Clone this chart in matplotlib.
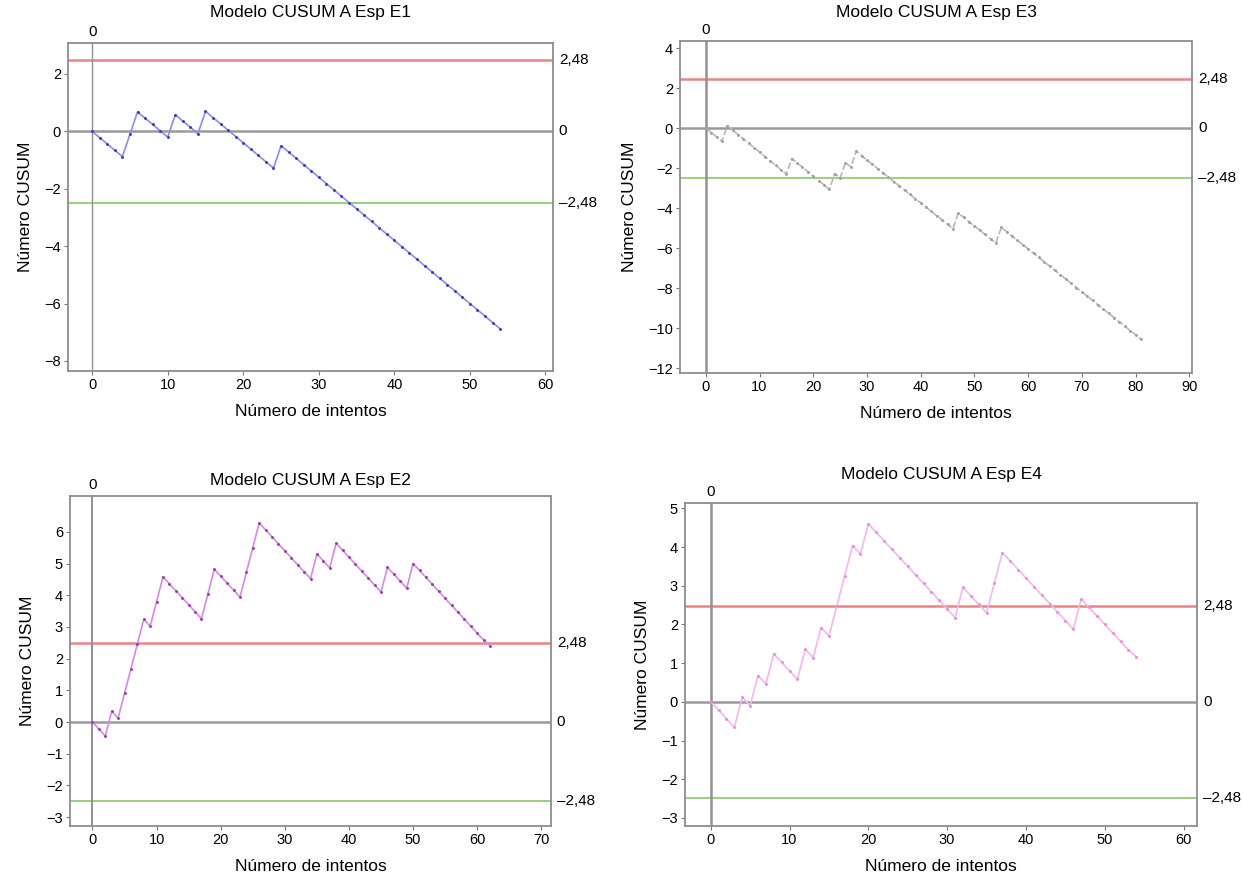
import matplotlib
matplotlib.use('Agg')
import matplotlib.pyplot as plt
import matplotlib.transforms as mtransforms

plt.rcParams['font.family'] = ['Liberation Sans', 'DejaVu Sans']

W, H = 1243, 876

# Límites de control (h) y valores CUSUM
h_limit = 2.48

e1_values = [0.00, -0.22, -0.44, -0.66, -0.88, -0.10, 0.68, 0.46, 0.24, 0.02,
             -0.20, 0.58, 0.36, 0.14, -0.08, 0.70, 0.48, 0.26, 0.04, -0.18,
             -0.40, -0.62, -0.84, -1.06, -1.28, -0.50, -0.72, -0.94, -1.16, -1.38,
             -1.60, -1.82, -2.04, -2.26, -2.48, -2.70, -2.92, -3.14, -3.36, -3.58,
             -3.80, -4.02, -4.24, -4.46, -4.68, -4.90, -5.12, -5.34, -5.56, -5.78,
             -6.00, -6.22, -6.44, -6.66, -6.88]

e2_values = [0.00, -0.22, -0.44, 0.34, 0.12, 0.90, 1.68, 2.46, 3.24, 3.02,
             3.80, 4.58, 4.36, 4.14, 3.92, 3.70, 3.48, 3.26, 4.04, 4.82,
             4.60, 4.38, 4.16, 3.94, 4.72, 5.50, 6.28, 6.06, 5.84, 5.62,
             5.40, 5.18, 4.96, 4.74, 4.52, 5.30, 5.08, 4.86, 5.64, 5.42,
             5.20, 4.98, 4.76, 4.54, 4.32, 4.10, 4.88, 4.66, 4.44, 4.22,
             5.00, 4.78, 4.56, 4.34, 4.12, 3.90, 3.68, 3.46, 3.24, 3.02,
             2.80, 2.58, 2.40]

e3_values = [0.00, -0.22, -0.44, -0.66, 0.12, -0.10, -0.32, -0.54, -0.76, -0.98,
             -1.20, -1.42, -1.64, -1.86, -2.08, -2.30, -1.52, -1.74, -1.96, -2.18,
             -2.40, -2.62, -2.84, -3.06, -2.28, -2.50, -1.72, -1.94, -1.16, -1.38,
             -1.59, -1.81, -2.02, -2.24, -2.45, -2.67, -2.88, -3.10, -3.31, -3.53,
             -3.74, -3.96, -4.17, -4.39, -4.60, -4.82, -5.03, -4.25, -4.46, -4.68,
             -4.89, -5.11, -5.32, -5.54, -5.75, -4.97, -5.18, -5.40, -5.61, -5.83,
             -6.04, -6.26, -6.47, -6.69, -6.90, -7.12, -7.33, -7.55, -7.76, -7.98,
             -8.19, -8.41, -8.62, -8.84, -9.05, -9.27, -9.48, -9.70, -9.91, -10.13,
             -10.34, -10.56]

e4_values = [0.00, -0.22, -0.44, -0.66, 0.12, -0.10, 0.68, 0.46, 1.24, 1.02,
             0.80, 0.58, 1.36, 1.14, 1.92, 1.70, 2.48, 3.26, 4.04, 3.82,
             4.60, 4.38, 4.16, 3.94, 3.72, 3.50, 3.28, 3.06, 2.84, 2.62,
             2.40, 2.18, 2.96, 2.74, 2.52, 2.30, 3.08, 3.86, 3.64, 3.42,
             3.20, 2.98, 2.76, 2.54, 2.32, 2.10, 1.88, 2.66, 2.44, 2.22,
             2.00, 1.78, 1.56, 1.34, 1.16]

panels = [
    dict(title='Modelo CUSUM A Esp E1', values=e1_values,
         box=(68, 43, 553, 371), title_y=12,
         xlim=(-3.2, 61.0), ylim=(-8.35, 3.08),
         xticks=range(0, 61, 10), yticks=range(-8, 3, 2),
         line='#8a8aff', dot='#3a3ab0', ls='-', vline_w=1.0),
    dict(title='Modelo CUSUM A Esp E3', values=e3_values,
         box=(680, 41, 1192, 373), title_y=12,
         xlim=(-4.8, 90.5), ylim=(-12.25, 4.36),
         xticks=range(0, 91, 10), yticks=range(-12, 5, 2),
         line='#b8b8b8', dot='#a0a0a0', ls=(0, (4, 1.5)), vline_w=1.8),
    dict(title='Modelo CUSUM A Esp E2', values=e2_values,
         box=(70, 496, 551, 826), title_y=481,
         xlim=(-3.5, 71.5), ylim=(-3.28, 7.13),
         xticks=range(0, 71, 10), yticks=range(-3, 7, 1),
         line='#d68ae8', dot='#9c3aac', ls='-', vline_w=1.4),
    dict(title='Modelo CUSUM A Esp E4', values=e4_values,
         box=(685, 503, 1197, 826), title_y=475,
         xlim=(-3.26, 61.7), ylim=(-3.21, 5.14),
         xticks=range(0, 61, 10), yticks=range(-3, 6, 1),
         line='#f6b6f0', dot='#e88ade', ls='-', vline_w=1.8),
]


def fmt(v):
    s = f'{abs(v):.2f}'.replace('.', ',') if v != 0 else '0'
    return ('\u2013' + s) if v < 0 else s


def main():
    fig = plt.figure(figsize=(W / 100, H / 100), dpi=100)

    for p in panels:
        x0, y0, x1, y1 = p['box']
        ax = fig.add_axes([x0 / W, 1 - y1 / H, (x1 - x0) / W, (y1 - y0) / H])

        ax.axhline(0, color='#9a9a9a', lw=1.8, zorder=1)
        ax.axhline(h_limit, color='#ec8484', lw=1.8, zorder=1)
        ax.axhline(-h_limit, color='#9cd27e', lw=1.5, zorder=1)
        ax.axvline(0, color='#929292', lw=p['vline_w'], zorder=1)

        x = list(range(len(p['values'])))
        ax.plot(x, p['values'], color=p['line'], lw=1.2, ls=p['ls'], zorder=2)
        ax.plot(x, p['values'], ls='none', marker='o', ms=2.1, mew=0,
                color=p['dot'], zorder=3)

        ax.set_xlim(*p['xlim'])
        ax.set_ylim(*p['ylim'])
        ax.set_xticks(list(p['xticks']))
        ax.set_yticks(list(p['yticks']))
        ax.tick_params(labelsize=10.5, length=3, color='#777777', pad=2)
        for sp in ax.spines.values():
            sp.set_color('#8e8e8e')
            sp.set_linewidth(1.3)

        ax.set_xlabel('Número de intentos', fontsize=12.5, labelpad=9)
        ax.set_ylabel('Número CUSUM', fontsize=12.5, labelpad=8)

        # etiquetas de las líneas de referencia
        tr_right = mtransforms.blended_transform_factory(ax.transAxes, ax.transData)
        for v in (h_limit, 0, -h_limit):
            ax.text(1.012, v, fmt(v), transform=tr_right, ha='left',
                    va='center', fontsize=11)
        tr_top = mtransforms.blended_transform_factory(ax.transData, ax.transAxes)
        ax.text(0, 1.012, '0', transform=tr_top, ha='center', va='bottom',
                fontsize=11)

        fig.text((x0 + x1) / 2 / W, 1 - p['title_y'] / H, p['title'],
                 ha='center', va='center', fontsize=12.5)

    fig.savefig('out.png', dpi=100)


if __name__ == '__main__':
    main()
